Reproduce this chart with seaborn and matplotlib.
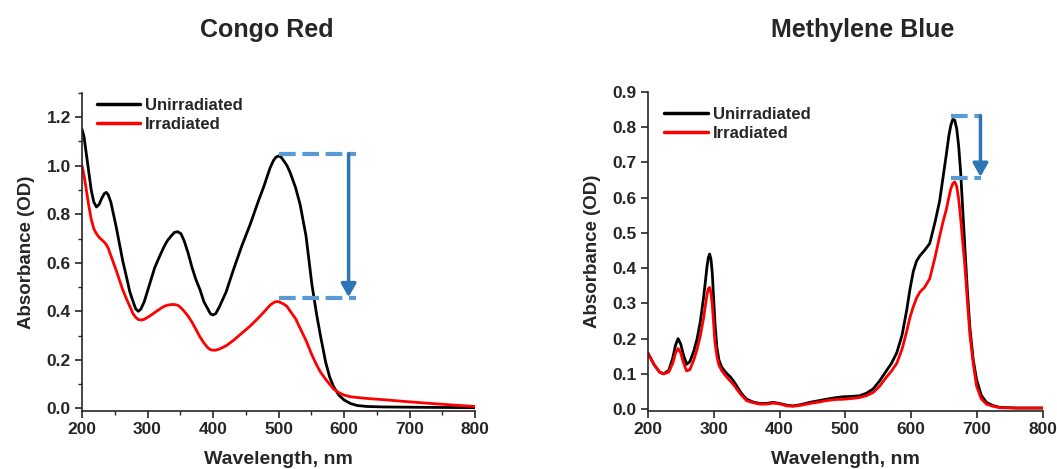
import numpy as np
import pandas as pd
import matplotlib
matplotlib.use("Agg")
import matplotlib.pyplot as plt
from matplotlib.ticker import MultipleLocator
import seaborn as sns

# Congo Red spectra
cr_wl = [200, 203, 206, 210, 214, 218, 222, 226, 230, 234, 237, 240, 244, 248, 252,
         257, 262, 268, 273, 278, 282, 286, 290, 295, 303, 311, 319, 325, 330, 336,
         341, 346, 351, 356, 362, 368, 374, 380, 386, 392, 396, 400, 404, 410, 420,
         431, 444, 457, 470, 477, 482, 487, 492, 496, 500, 504, 508, 513, 518, 526,
         533, 542, 551, 558, 564, 572, 578, 584, 592, 600, 610, 620, 635, 660, 700,
         750, 800]
cr_unirr = [1.15, 1.12, 1.06, 0.98, 0.90, 0.85, 0.83, 0.84, 0.865, 0.885, 0.89, 0.88, 0.85, 0.80, 0.75,
            0.68, 0.61, 0.54, 0.48, 0.44, 0.41, 0.40, 0.41, 0.44, 0.51, 0.58, 0.63, 0.665, 0.69, 0.71,
            0.725, 0.728, 0.72, 0.69, 0.64, 0.58, 0.53, 0.49, 0.44, 0.41, 0.39, 0.385, 0.39, 0.42, 0.48,
            0.57, 0.67, 0.76, 0.86, 0.91, 0.95, 0.99, 1.02, 1.035, 1.04, 1.035, 1.02, 1.0, 0.97, 0.91,
            0.84, 0.71, 0.51, 0.39, 0.30, 0.19, 0.13, 0.09, 0.055, 0.035, 0.02, 0.012, 0.008, 0.006, 0.005,
            0.004, 0.003]
cr_irr = [1.00, 0.96, 0.91, 0.84, 0.78, 0.74, 0.72, 0.705, 0.695, 0.685, 0.675, 0.66, 0.63, 0.60, 0.57,
          0.53, 0.49, 0.45, 0.42, 0.39, 0.375, 0.366, 0.364, 0.367, 0.38, 0.395, 0.41, 0.42, 0.425, 0.428,
          0.428, 0.425, 0.415, 0.40, 0.38, 0.355, 0.325, 0.295, 0.27, 0.25, 0.242, 0.24, 0.24, 0.245, 0.258,
          0.28, 0.31, 0.34, 0.375, 0.395, 0.41, 0.425, 0.435, 0.44, 0.44, 0.435, 0.43, 0.42, 0.40, 0.37,
          0.33, 0.28, 0.22, 0.18, 0.15, 0.12, 0.10, 0.08, 0.065, 0.055, 0.048, 0.045, 0.041, 0.036, 0.027,
          0.017, 0.008]

# Methylene Blue spectra
mb_wl = [200, 210, 218, 224, 232, 238, 242, 246, 250, 254, 259, 264, 270, 275, 280,
         285, 288, 290, 292, 294, 296, 298, 300, 302, 305, 308, 312, 318, 325, 330,
         335, 342, 350, 360, 370, 380, 390, 400, 411, 421, 433, 446, 460, 471, 484,
         497, 510, 522, 532, 542, 552, 562, 570, 578, 586, 593, 598, 603, 608, 613,
         620, 628, 636, 643, 648, 653, 657, 660, 663, 666, 669, 672, 675, 678, 681,
         685, 689, 694, 699, 706, 714, 724, 734, 760, 800]
mb_unirr = [0.16, 0.125, 0.105, 0.10, 0.11, 0.145, 0.18, 0.20, 0.185, 0.155, 0.127, 0.135, 0.165, 0.20, 0.25,
            0.32, 0.37, 0.405, 0.43, 0.44, 0.425, 0.385, 0.315, 0.245, 0.175, 0.14, 0.12, 0.105, 0.092, 0.08,
            0.066, 0.045, 0.028, 0.02, 0.016, 0.016, 0.019, 0.016, 0.011, 0.009, 0.013, 0.019, 0.024, 0.028, 0.032,
            0.035, 0.036, 0.038, 0.045, 0.057, 0.08, 0.108, 0.13, 0.16, 0.21, 0.28, 0.34, 0.39, 0.42, 0.435,
            0.45, 0.47, 0.53, 0.59, 0.655, 0.72, 0.775, 0.805, 0.822, 0.82, 0.795, 0.745, 0.67, 0.57, 0.47,
            0.34, 0.23, 0.14, 0.085, 0.04, 0.019, 0.01, 0.005, 0.003, 0.003]
mb_irr = [0.16, 0.125, 0.105, 0.10, 0.105, 0.13, 0.158, 0.172, 0.16, 0.133, 0.108, 0.112, 0.14, 0.17, 0.21,
          0.26, 0.30, 0.325, 0.342, 0.345, 0.33, 0.295, 0.245, 0.19, 0.15, 0.125, 0.11, 0.095, 0.08, 0.07,
          0.057, 0.04, 0.024, 0.018, 0.014, 0.014, 0.017, 0.015, 0.009, 0.008, 0.011, 0.016, 0.02, 0.024, 0.027,
          0.028, 0.03, 0.033, 0.038, 0.047, 0.065, 0.09, 0.108, 0.13, 0.17, 0.22, 0.26, 0.29, 0.315, 0.332,
          0.345, 0.37, 0.43, 0.49, 0.53, 0.565, 0.60, 0.625, 0.64, 0.645, 0.632, 0.595, 0.54, 0.475, 0.415,
          0.31, 0.21, 0.13, 0.066, 0.03, 0.014, 0.008, 0.004, 0.003, 0.003]

# drop markers: (x start, x end, y top, y bottom, arrow x)
cr_drop = (500, 618, 1.05, 0.455, 607)
mb_drop = (661, 706, 0.833, 0.656, 705)

sns.set_style("ticks")
plt.rcParams['font.family'] = ['Liberation Sans', 'DejaVu Sans']
plt.rcParams['font.weight'] = 'bold'

fig = plt.figure(figsize=(10.57, 4.69), dpi=100)
ax1 = fig.add_axes([0.0776, 0.124, 0.3718, 0.678])
ax2 = fig.add_axes([0.6128, 0.124, 0.3740, 0.680])


def draw_panel(ax, wl, unirr, irr, drop, ylim, ymaj, yminor, xminor, leg_anchor):
    df = pd.DataFrame({
        "Wavelength": list(wl) + list(wl),
        "Absorbance": list(unirr) + list(irr),
        "Sample": ["Unirradiated"] * len(wl) + ["Irradiated"] * len(wl),
    })
    sns.lineplot(data=df, x="Wavelength", y="Absorbance", hue="Sample",
                 palette={"Unirradiated": "black", "Irradiated": "#ff0000"},
                 linewidth=2, ax=ax)
    for ln in ax.get_lines():
        ln.set_solid_joinstyle("round")
    ax.set_xlim(200, 800)
    ax.set_ylim(*ylim)
    ax.xaxis.set_major_locator(MultipleLocator(100))
    ax.yaxis.set_major_locator(MultipleLocator(ymaj))
    if xminor:
        ax.xaxis.set_minor_locator(MultipleLocator(50))
    if yminor:
        ax.yaxis.set_minor_locator(MultipleLocator(ymaj / 2))
    ax.yaxis.set_major_formatter(matplotlib.ticker.FormatStrFormatter('%.1f'))
    ax.tick_params(which='major', length=5, width=1.2, labelsize=12.5, pad=3)
    ax.tick_params(which='minor', length=3, width=1)
    for lab in ax.get_xticklabels() + ax.get_yticklabels():
        lab.set_fontweight('bold')
    sns.despine(ax=ax)
    for s in ["left", "bottom"]:
        ax.spines[s].set_linewidth(1.2)
    ax.set_xlabel("Wavelength, nm", fontsize=14, fontweight='bold', labelpad=10)
    ax.set_ylabel("Absorbance (OD)", fontsize=13.5, fontweight='bold', labelpad=8)

    # dashed level markers and arrow
    x0, x1, ytop, ybot, xa = drop
    ax.plot([x0, x1], [ytop, ytop], color="#5b9bd5", lw=3, ls=(0, (4, 1.6)))
    ax.plot([x0, x1], [ybot, ybot], color="#5b9bd5", lw=3, ls=(0, (4, 1.6)))
    ax.annotate("", xy=(xa, ybot + 0.003), xytext=(xa, ytop),
                arrowprops=dict(arrowstyle="-|>,head_length=0.8,head_width=0.45",
                                color="#2e75b6", lw=2.5, shrinkA=0, shrinkB=0))

    leg = ax.legend(loc="upper left", bbox_to_anchor=leg_anchor, frameon=False,
                    handlelength=2.6, handletextpad=0.3, labelspacing=0.25,
                    borderaxespad=0, prop={'weight': 'bold', 'size': 12})
    for h in leg.get_lines():
        h.set_linewidth(2.5)


draw_panel(ax1, cr_wl, cr_unirr, cr_irr, cr_drop, (-0.01, 1.3), 0.2, True, True, (0.02, 1.005))
draw_panel(ax2, mb_wl, mb_unirr, mb_irr, mb_drop, (-0.005, 0.9), 0.1, False, False, (0.025, 0.975))

fig.text(267 / 1057, 1 - 30 / 469, "Congo Red", ha="center", va="center",
         fontsize=18, fontweight="bold")
fig.text(863 / 1057, 1 - 30 / 469, "Methylene Blue", ha="center", va="center",
         fontsize=18, fontweight="bold")

fig.savefig("out.png", dpi=100)
